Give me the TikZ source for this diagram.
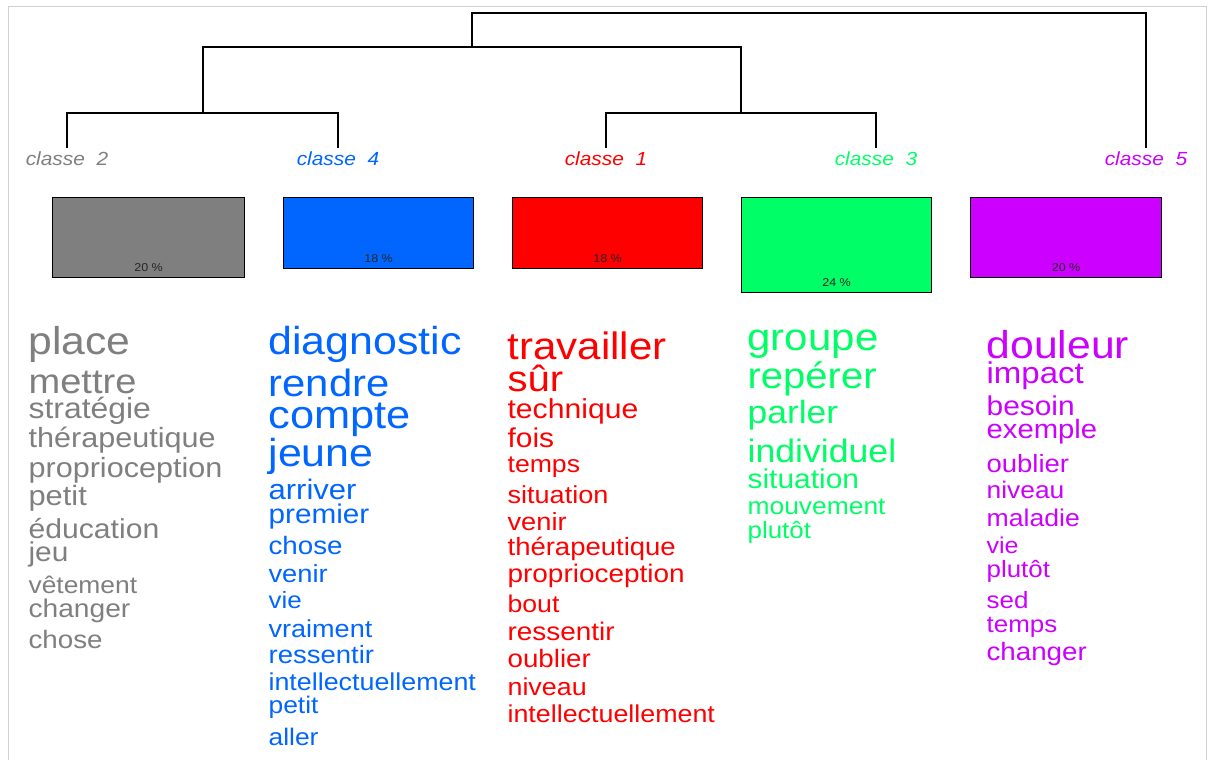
\documentclass[tikz,border=0pt]{standalone}
\usepackage{fontspec}
\newfontfamily\wordfont{Liberation Sans}[FakeStretch=1.1]
\usetikzlibrary{positioning}
\definecolor{cls1}{HTML}{FF0000}
\definecolor{cls2}{HTML}{7F7F7F}
\definecolor{cls3}{HTML}{00FF66}
\definecolor{cls4}{HTML}{0066FF}
\definecolor{cls5}{HTML}{CC00FF}
\tikzset{
  classbox/.style={draw, line width=0.6pt, anchor=north west, inner sep=0pt},
  pct/.style={inner sep=0pt, text=black!85, font=\wordfont\fontsize{5.7}{6}\selectfont},
  classlabel/.style={anchor=base, inner sep=0pt, outer sep=1.5pt, font=\wordfont\itshape\fontsize{9.5}{10}\selectfont},
  word/.style={anchor=base west, inner sep=0pt}
}

\begin{document}
\begin{tikzpicture}[x=0.5pt, y=-0.5pt, line width=0.6pt]
\useasboundingbox (0,0) rectangle (1208,760);
\draw [black!18, line width=0.5pt] (8,760) -- (8,6) -- (1206,6) -- (1206,760);

% class labels
\node (c2) [classlabel, text=cls2] at (67,165) {classe~~2};
\node (c4) [classlabel, text=cls4] at (338,165) {classe~~4};
\node (c1) [classlabel, text=cls1] at (606,165) {classe~~1};
\node (c3) [classlabel, text=cls3] at (876,165) {classe~~3};
\node (c5) [classlabel, text=cls5] at (1146,165) {classe~~5};

% dendrogram
\coordinate (k24) at (203,113);
\coordinate (k13) at (741,113);
\coordinate (k2413) at (472,47);
\coordinate (root) at (809,13);
\draw (c2.north) |- (k24) -| (c4.north);
\draw (c1.north) |- (k13) -| (c3.north);
\draw (k24) |- (k2413) -| (k13);
\draw (k2413) |- (root) -| (c5.north);

% boxes
\node (b2) [classbox, fill=cls2, minimum width=96pt, minimum height=40pt] at (52,197) {};
\node (b4) [classbox, fill=cls4, minimum width=95pt, minimum height=35.5pt] at (283,197) {};
\node (b1) [classbox, fill=cls1, minimum width=95pt, minimum height=35.5pt] at (512,197) {};
\node (b3) [classbox, fill=cls3, minimum width=95pt, minimum height=47.5pt] at (741,197) {};
\node (b5) [classbox, fill=cls5, minimum width=95.5pt, minimum height=40pt] at (970,197) {};
\node (p2) [pct, above=3pt of b2.south] {20 \%};
\node (p4) [pct, above=3pt of b4.south] {18 \%};
\node (p1) [pct, above=3pt of b1.south] {18 \%};
\node (p3) [pct, above=3pt of b3.south] {24 \%};
\node (p5) [pct, above=3pt of b5.south] {20 \%};

% words
\foreach \w/\s/\y [count=\i] in {place/19.4/354, mettre/17.3/393, stratégie/14.5/418,
    thérapeutique/13.9/447, proprioception/13.9/477, petit/14/505, éducation/13.7/538,
    jeu/13.6/561, vêtement/12/593, changer/12.8/617, chose/12.6/648}
  \node (w2-\i) [word, text=cls2, font=\wordfont\fontsize{\s}{\s}\selectfont] at (28,\y) {\w};
\foreach \w/\s/\y [count=\i] in {diagnostic/19.5/354, rendre/19/396, compte/19.7/428,
    jeune/19.5/466, arriver/14.1/499, premier/13.5/523, chose/12.6/554, venir/12.4/582,
    vie/11.8/608, vraiment/12.3/637, ressentir/12.5/663, intellectuellement/12.2/690,
    petit/12/713, aller/12/745}
  \node (w4-\i) [word, text=cls4, font=\wordfont\fontsize{\s}{\s}\selectfont] at (268,\y) {\w};
\foreach \w/\s/\y [count=\i] in {travailler/19.1/359, sûr/18.2/391, technique/13.7/418,
    fois/13.6/447, temps/12.1/472, situation/12.3/503, venir/12.4/530,
    thérapeutique/12.5/555, proprioception/12.7/582, bout/12.1/612, ressentir/12.7/640,
    oublier/12.6/667, niveau/12.2/695, intellectuellement/12.2/722}
  \node (w1-\i) [word, text=cls1, font=\wordfont\fontsize{\s}{\s}\selectfont] at (507,\y) {\w};
\foreach \w/\s/\y [count=\i] in {groupe/19.1/350, repérer/18.2/388, parler/16.1/423,
    individuel/16.2/462, situation/13.6/488, mouvement/12/514, plutôt/11.8/538}
  \node (w3-\i) [word, text=cls3, font=\wordfont\fontsize{\s}{\s}\selectfont] at (747,\y) {\w};
\foreach \w/\s/\y [count=\i] in {douleur/19.4/358, impact/15/383, besoin/13.6/415,
    exemple/13.3/438, oublier/12.5/472, niveau/12/498, maladie/12.1/526, vie/11.4/553,
    plutôt/11.8/577, sed/11.8/608, temps/11.8/632, changer/12.6/660}
  \node (w5-\i) [word, text=cls5, font=\wordfont\fontsize{\s}{\s}\selectfont] at (986,\y) {\w};
\end{tikzpicture}
\end{document}
